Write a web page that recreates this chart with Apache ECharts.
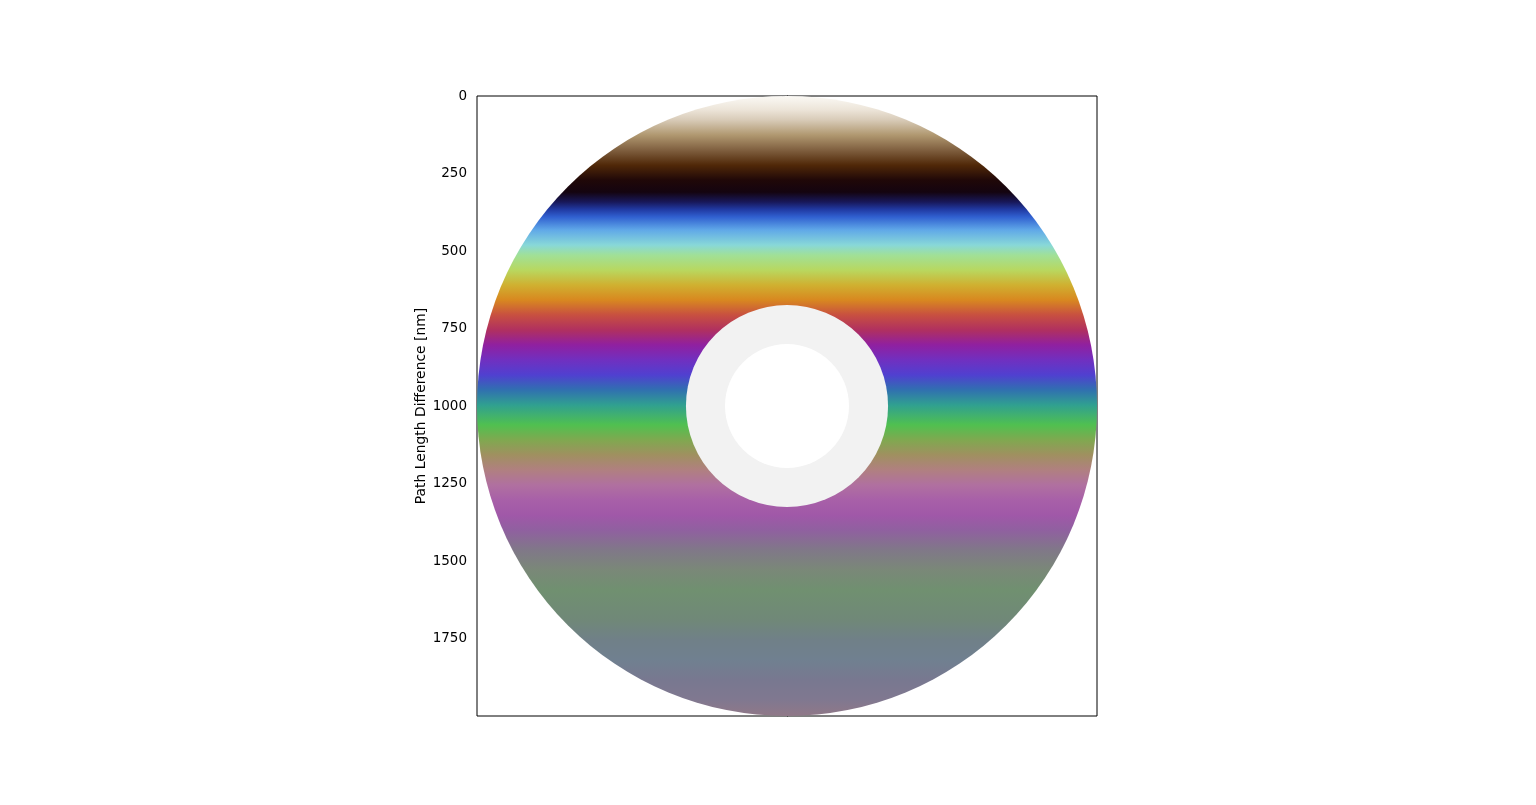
<!DOCTYPE html>
<html>
<head>
<meta charset="utf-8">
<script src="https://cdn.jsdelivr.net/npm/echarts@6/dist/echarts.min.js"></script>
<style>
  html, body { margin: 0; padding: 0; background: #fff; }
  #chart { width: 1536px; height: 805px; }
</style>
</head>
<body>
<div id="chart"></div>
<script>
// path length difference (nm) and the colour seen at that depth
var bandNm = [0, 45, 77, 126, 174, 223, 271, 310, 342, 365, 390, 432, 481, 513, 561, 610, 658,
  706, 755, 803, 852, 900, 948, 997, 1029, 1061, 1110, 1158, 1206, 1255, 1303, 1352, 1400,
  1465, 1529, 1594, 1690, 1755, 1819, 1884, 1948, 2000];
var bandColor = ["#fbf9f5", "#ece4d8", "#d8cbb8", "#b09870", "#806040", "#502808", "#200808",
  "#140410", "#18185a", "#2038a0", "#3060d0", "#60a8e8", "#88d8d8", "#a0e098", "#b8d860", "#d0b030",
  "#d88820", "#c85040", "#b03060", "#9020a0", "#7030c0", "#5040d0", "#3070b0", "#30a090",
  "#40b070", "#50c050", "#80a850", "#a09060", "#b08080", "#b070a0", "#a860a8", "#a058a8",
  "#9060a0", "#807888", "#7a8878", "#709070", "#708878", "#708088", "#708090", "#787890",
  "#807890", "#907888"];

// disc: centre (x, y) and radii in nm
var discCenter = [0, 1000];
var discRadius = [1000, 326, 200];
var discFill = ["gradient", "#f2f2f2", "#ffffff"];

var yTicks = [0, 250, 500, 750, 1000, 1250, 1500, 1750];

var chart = echarts.init(document.getElementById("chart"));

var stops = bandNm.map(function (v, i) {
  return { offset: v / 2000, color: bandColor[i] };
});

var option = {
  animation: false,
  grid: {
    left: 477, right: 439, top: 96, bottom: 89,
    show: true, borderColor: "#000", borderWidth: 1, backgroundColor: "transparent"
  },
  xAxis: {
    type: "value", min: -1000, max: 1000,
    show: false
  },
  yAxis: {
    type: "value", inverse: true, min: 0, max: 2000, interval: 250,
    name: "Path Length Difference [nm]",
    nameLocation: "middle", nameGap: 49,
    nameTextStyle: { fontFamily: "DejaVu Sans", fontSize: 13.9, color: "#000" },
    axisLine: { show: true, lineStyle: { color: "#000", width: 1 } },
    axisTick: { show: true, length: 5, customValues: yTicks, lineStyle: { color: "#000" } },
    axisLabel: {
      fontFamily: "DejaVu Sans", fontSize: 13.5, color: "#000", margin: 10,
      customValues: yTicks,
      formatter: function (v) { return String(v); }
    },
    splitLine: { show: false }
  },
  series: [{
    type: "custom",
    clip: true,
    data: discRadius.map(function (r, i) { return [discCenter[0], discCenter[1], r, i]; }),
    renderItem: function (params, api) {
      var c = api.coord([api.value(0), api.value(1)]);
      var r = api.size([api.value(2), 0])[0];
      var fill = discFill[api.value(3)];
      if (fill === "gradient") {
        fill = new echarts.graphic.LinearGradient(0, 0, 0, 1, stops);
      }
      return {
        type: "circle",
        shape: { cx: c[0], cy: c[1], r: r },
        style: { fill: fill }
      };
    }
  }]
};

chart.setOption(option);
</script>
</body>
</html>
